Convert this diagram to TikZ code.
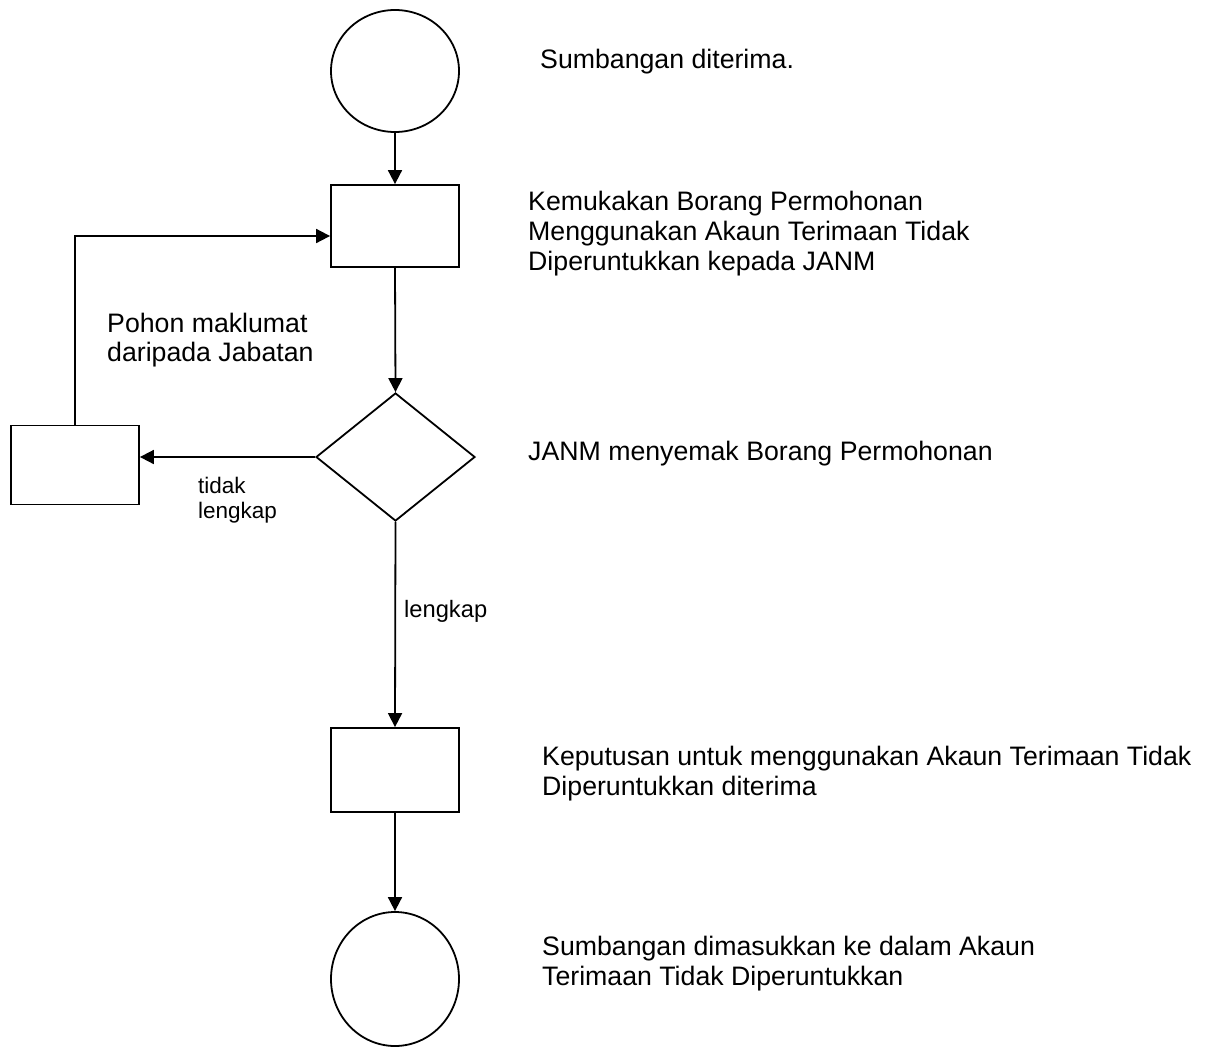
\documentclass[tikz,border=0pt]{standalone}
\usepackage{fontspec}
\setmainfont{Liberation Sans}
\usetikzlibrary{shapes.geometric,arrows.meta}
\begin{document}
\begin{tikzpicture}[x=1pt,y=-1pt,
  conn/.style={draw=black,line width=1.8pt,-{Triangle[length=14pt,width=14pt]}},
  boxnode/.style={draw,line width=1.8pt,rectangle,inner sep=0pt,minimum width=128pt},
  termnode/.style={draw,line width=1.8pt,ellipse,inner sep=0pt},
  decnode/.style={draw,line width=1.8pt,diamond,inner sep=0pt,minimum width=159pt,minimum height=128pt},
  desc/.style={anchor=base west,inner sep=0pt,font=\fontsize{26.7}{30}\selectfont},
  lab/.style={anchor=base west,inner sep=0pt}
]
\useasboundingbox (0,0) rectangle (1211,1047);
\begin{scope}
\clip (0,0) rectangle (1211,1047);
% shapes
\node[termnode,minimum width=128pt,minimum height=122pt] (e1) at (395,71) {};
\node[boxnode,minimum height=82pt] (r1) at (395,226) {};
\node[decnode] (d) at (395.5,457) {};
\node[boxnode,minimum height=79pt] (lr) at (75,465) {};
\node[boxnode,minimum height=84pt] (r2) at (395,770) {};
\node[termnode,minimum width=128pt,minimum height=134pt] (e2) at (395,979) {};
\end{scope}
% connectors
\draw[conn] (e1.south) -- (r1.north);
\draw[conn] (r1.south) -- (d.north);
\draw[conn] (d.west) -- (d.west -| lr.east);
\draw[conn] (lr.north) |- ([yshift=-10pt]r1.west);
\draw[conn] (d.south) -- (r2.north);
\draw[conn] (r2.south) -- (e2.north);
% descriptions
\node[desc] (t1) at (540,68) {Sumbangan diterima.};
\node[desc] (t2a) at (528,210) {Kemukakan Borang Permohonan};
\node[desc] (t2b) at (528,240) {Menggunakan Akaun Terimaan Tidak};
\node[desc] (t2c) at (528,270) {Diperuntukkan kepada JANM};
\node[desc] (t3) at (528,460) {JANM menyemak Borang Permohonan};
\node[desc] (t4a) at (542,765) {Keputusan untuk menggunakan Akaun Terimaan Tidak};
\node[desc] (t4b) at (542,795) {Diperuntukkan diterima};
\node[desc] (t5a) at (542,955) {Sumbangan dimasukkan ke dalam Akaun};
\node[desc] (t5b) at (542,985) {Terimaan Tidak Diperuntukkan};
% labels
\node[desc] (p1) at (107,332) {Pohon maklumat};
\node[desc] (p2) at (107,361) {daripada Jabatan};
\node[lab,font=\fontsize{22.5}{25}\selectfont] (l1) at (198,493) {tidak};
\node[lab,font=\fontsize{22.5}{25}\selectfont] (l2) at (198,518) {lengkap};
\node[lab,font=\fontsize{23.7}{27}\selectfont] (l3) at (404,617) {lengkap};
\end{tikzpicture}
\end{document}
